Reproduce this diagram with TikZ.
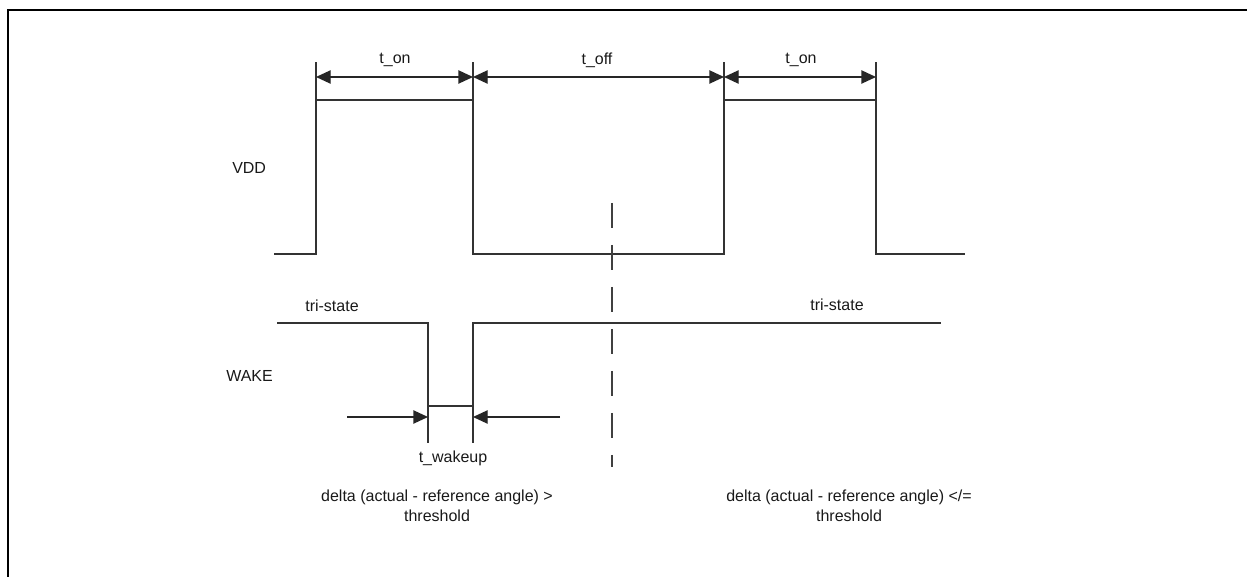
\documentclass[tikz,border=0pt]{standalone}
\usepackage{fontspec}
\setmainfont{Liberation Sans}
\usetikzlibrary{arrows.meta,calc,positioning}
\tikzstyle{frame} = [line width=1.8pt, black, line join=miter]
\tikzstyle{signal} = [line width=1pt, black!80]
\tikzstyle{sigtext} = [inner sep=0pt, text=black!90, font=\fontsize{12}{15}\selectfont]
\tikzstyle{dimline} = [line width=1pt, black!85, {Triangle[length=11pt,width=10pt]}-{Triangle[length=11pt,width=10pt]}]
\tikzstyle{arrow} = [line width=1pt, black!85, -{Triangle[length=11pt,width=10pt]}]
\tikzstyle{marker} = [line width=1pt, black!75, dash pattern=on 18.75pt off 12.75pt]

\begin{document}
\begin{tikzpicture}[x=0.75pt, y=-0.75pt]

\useasboundingbox (0,0) rectangle (1247,577);
\draw [frame] (8,577) -- (8,10) -- (1247,10);

% VDD signal
\coordinate (vdd0) at (274,254);
\coordinate (vdd1) at (316,254);
\coordinate (vdd2) at (473,254);
\coordinate (vdd3) at (724,254);
\coordinate (vdd4) at (876,254);
\coordinate (vdd5) at (965,254);
\coordinate (top1) at (316,62);
\coordinate (top2) at (473,62);
\coordinate (top3) at (724,62);
\coordinate (top4) at (876,62);

\draw [signal] (vdd0) -- (vdd1) -- (316,100) -- (473,100) -- (vdd2) -- (vdd3) -- (724,100) -- (876,100) -- (vdd4) -- (vdd5);
\foreach \i in {1,2,3,4} {
  \draw [signal] (vdd\i) -- (top\i);
}

\coordinate (d1) at (316,77);
\coordinate (d2) at (473,77);
\coordinate (d3) at (724,77);
\coordinate (d4) at (876,77);
\draw [dimline] (d1) -- (d2);
\draw [dimline] (d2) -- (d3);
\draw [dimline] (d3) -- (d4);

\node (ton1) [sigtext] at (395,60) {t\_on};
\node (toff) [sigtext] at (597,60) {t\_off};
\node (ton2) [sigtext] at (801,60) {t\_on};
\node (vdd) [sigtext, anchor=west] at (232,168) {VDD};

% WAKE signal
\coordinate (wk0) at (277,323);
\coordinate (wk1) at (428,443);
\coordinate (wk2) at (473,443);
\coordinate (wk3) at (941,323);

\draw [signal] (wk0) -- (428,323) -- (wk1);
\draw [signal] (428,406) -- (473,406);
\draw [signal] (wk2) -- (473,323) -- (wk3);

\coordinate (wa) at (347,417);
\coordinate (wb) at (560,417);
\draw [arrow] (wa) -- (428,417);
\draw [arrow] (wb) -- (473,417);

\node (wake) [sigtext, anchor=west] at (226,376) {WAKE};
\node (tri1) [sigtext] at (332,306) {tri-state};
\node (tri2) [sigtext] at (837,305) {tri-state};
\node (twake) [sigtext] at (453,458) {t\_wakeup};

% angle check
\coordinate (mtop) at (612,203);
\coordinate (mbot) at (612,467);
\draw [marker] (mtop) -- (mbot);

\node (above) [sigtext, align=center] at (437,506) {delta (actual - reference angle) >\\threshold};
\node (below) [sigtext, align=center] at (849,506) {delta (actual - reference angle) </=\\threshold};

\end{tikzpicture}
\end{document}
